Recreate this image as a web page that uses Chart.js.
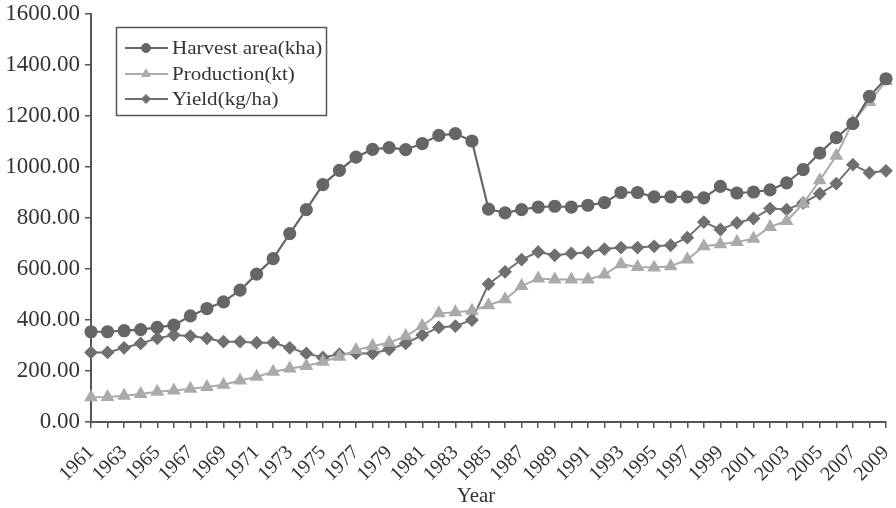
<!DOCTYPE html>
<html>
<head>
<meta charset="utf-8">
<script src="https://cdn.jsdelivr.net/npm/chart.js@4/dist/chart.umd.min.js"></script>
<style>
  html, body { margin: 0; padding: 0; background: #fff; }
  #wrap { width: 896px; height: 508px; }
</style>
</head>
<body>
<div id="wrap"><canvas id="myChart" width="896" height="508"></canvas></div>
<script>
let years = [];
for (let y = 1961; y <= 2009; y++) years.push(String(y));

let harvestArea = [
  354, 354, 358, 362, 371, 380, 416, 445, 471, 517,
  580, 641, 739, 833, 931, 987, 1039, 1069, 1076, 1068,
  1092, 1124, 1131, 1102, 835, 820, 833, 843, 846, 843,
  850, 860, 900, 900, 883, 883, 883, 879, 924, 898,
  902, 910, 938, 990, 1055, 1115, 1170, 1277, 1346,
];
let production = [
  97, 98, 103, 110, 119, 124, 130, 137, 146, 163,
  177, 197, 210, 220, 236, 256, 282, 298, 311, 337,
  376, 426, 430, 436, 458, 481, 533, 563, 559, 559,
  559, 578, 619, 608, 606, 611, 637, 689, 697, 706,
  719, 765, 788, 856, 948, 1044, 1176, 1255, 1337,
];
let yieldPerHa = [
  273, 273, 291, 308, 328, 341, 337, 328, 315, 315,
  311, 311, 291, 269, 253, 266, 270, 269, 285, 308,
  341, 371, 376, 400, 541, 589, 637, 667, 654, 661,
  665, 678, 684, 684, 689, 693, 723, 784, 755, 781,
  798, 837, 833, 859, 895, 935, 1009, 977, 985,
];
let xTitle = "Year";

let serif = "'Liberation Serif', 'Times New Roman', serif";
let axisColor = "#555";
let textColor = "#333";

// boxed legend inside the plot (top left) plus the x axis title
let boxLegend = {
  id: "boxLegend",
  afterDraw(chart) {
    let c = chart.ctx;
    c.save();
    c.strokeStyle = axisColor;
    c.lineWidth = 1.5;
    c.strokeRect(116.5, 27.5, 210, 88);
    let rows = [48, 74, 99];
    chart.data.datasets.forEach((ds, i) => {
      let y = rows[i];
      c.strokeStyle = ds.borderColor;
      c.lineWidth = ds.borderWidth;
      c.beginPath();
      c.moveTo(125, y);
      c.lineTo(168, y);
      c.stroke();
      c.fillStyle = ds.pointBackgroundColor;
      c.strokeStyle = ds.pointBorderColor;
      c.lineWidth = 1;
      Chart.helpers.drawPoint(c, { pointStyle: ds.pointStyle, radius: ds.pointRadius - 1, borderWidth: 1 }, 146, y);
      // legend text is set a little wide
      c.save();
      c.translate(172, y + 1);
      c.scale(1.17, 1);
      c.fillStyle = textColor;
      c.font = "18px " + serif;
      c.textBaseline = "middle";
      c.fillText(ds.label, 0, 0);
      c.restore();
    });
    c.fillStyle = textColor;
    c.font = "21px " + serif;
    c.textAlign = "center";
    c.textBaseline = "middle";
    c.fillText(xTitle, 476, 496);
    c.restore();
  },
};

let ctx = document.getElementById("myChart").getContext("2d");
let myChart = new Chart(ctx, {
  type: "line",
  data: {
    labels: years,
    datasets: [
      {
        label: "Harvest area(kha)",
        data: harvestArea,
        borderColor: "#666",
        borderWidth: 2.2,
        pointStyle: "circle",
        pointRadius: 5.5,
        pointBackgroundColor: "#666",
        pointBorderColor: "#666",
        tension: 0,
      },
      {
        label: "Production(kt)",
        data: production,
        borderColor: "#aaa",
        borderWidth: 2,
        pointStyle: "triangle",
        pointRadius: 6,
        pointBackgroundColor: "#aaa",
        pointBorderColor: "#aaa",
        tension: 0,
      },
      {
        label: "Yield(kg/ha)",
        data: yieldPerHa,
        borderColor: "#707070",
        borderWidth: 2,
        pointStyle: "rectRot",
        pointRadius: 5.5,
        pointBackgroundColor: "#707070",
        pointBorderColor: "#707070",
        tension: 0,
      },
    ],
  },
  plugins: [boxLegend],
  options: {
    responsive: false,
    animation: false,
    layout: { padding: { top: 14, right: 10, left: 0, bottom: 0 } },
    plugins: {
      legend: { display: false },
      tooltip: { enabled: false },
    },
    scales: {
      x: {
        offset: false,
        border: { color: axisColor, width: 2 },
        grid: { drawOnChartArea: false, color: axisColor, lineWidth: 1.5, tickLength: 6 },
        ticks: {
          autoSkip: false,
          minRotation: 45,
          maxRotation: 45,
          padding: 13,
          color: textColor,
          font: { family: serif, size: 20 },
          callback: function (val, i) {
            return i % 2 === 0 ? this.getLabelForValue(val) : "";
          },
        },
        afterFit: (scale) => {
          scale.height = 86;
          scale.paddingLeft = 0;
          scale.paddingRight = 0;
        },
      },
      y: {
        min: 0,
        max: 1600,
        border: { color: axisColor, width: 2 },
        grid: { drawOnChartArea: false, color: axisColor, lineWidth: 1.5, tickLength: 6 },
        ticks: {
          stepSize: 200,
          padding: 5,
          color: textColor,
          font: { family: serif, size: 23 },
          callback: (v) => v.toFixed(2),
        },
        afterFit: (scale) => {
          scale.width = 91;
          scale.paddingTop = 0;
          scale.paddingBottom = 0;
        },
      },
    },
  },
});
</script>
</body>
</html>
